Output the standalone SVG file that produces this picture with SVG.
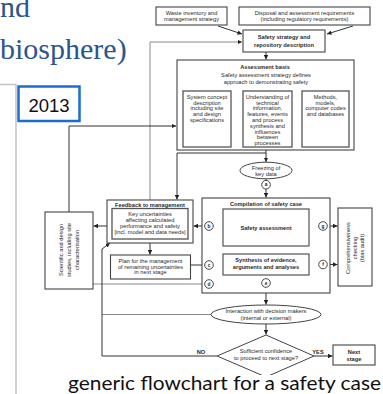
<svg xmlns="http://www.w3.org/2000/svg" width="383" height="394" viewBox="0 0 383 394">
  <style>
    .t { font-family: "Liberation Sans", Arial, sans-serif; font-size: 5.7px; fill: #2a2a2a; text-anchor: middle; }
    .b { font-weight: bold; }
    .box { fill: #fff; stroke: #444; stroke-width: 1.1; }
    .inner { fill: #fff; stroke: #555; stroke-width: 1.3; }
    .ln { fill: none; stroke: #333; stroke-width: 1; }
    .lt { fill: none; stroke: #8a8a8a; stroke-width: 1; }
    .ar { marker-end: url(#ah); }
    .dot { fill: #fff; stroke: #333; stroke-width: 0.9; }
    .lbl { font-family: "Liberation Sans", Arial, sans-serif; font-size: 4.8px; font-weight: bold; fill: #222; text-anchor: middle; }
    .head { font-family: "Liberation Serif", "Times New Roman", serif; font-size: 30px; fill: #2b5590; }
  </style>
  <defs>
    <marker id="ah" viewBox="0 0 8 8" refX="8" refY="4" markerWidth="4.5" markerHeight="4.5" orient="auto" markerUnits="userSpaceOnUse">
      <path d="M0,0 L8,4 L0,8 z" fill="#222"/>
    </marker>
  </defs>

  <rect width="383" height="394" fill="#fff"/>

  <!-- slide heading fragments -->
  <g id="heading">
    <text class="head" x="0" y="17">nd</text>
    <text class="head" x="0" y="59">biosphere)</text>
  </g>

  <!-- side panel edge -->
  <g id="side-panel">
    <path d="M0,84.5 H16 V394" fill="none" stroke="#c4c4c4" stroke-width="1.5"/>
  </g>

  <!-- year tag -->
  <g id="year-tag">
    <rect x="18.5" y="86.5" width="61" height="34.5" fill="#fff" stroke="#1b6cd3" stroke-width="2.5"/>
    <text x="49" y="111.5" font-family="Liberation Sans, Arial, sans-serif" font-size="18.5" text-anchor="middle" fill="#111">2013</text>
  </g>

  <!-- connectors -->
  <g id="connectors">
    <path class="ln ar" d="M218,26 L242,34"/>
    <path class="ln ar" d="M353,26 L327,34"/>
    <path class="ln ar" d="M266,52 V59.5"/>
    <path class="lt ar" d="M150,200 V42 H242"/>
    <path class="ln ar" d="M69,212 V126 H176"/>
    <path class="ln ar" d="M266,150 V162"/>
    <path class="ln ar" d="M266,153 H177 V199.5"/>
    <path class="ln" d="M266,178.5 V180.5"/>
    <path class="ln ar" d="M266,189 V197.5"/>
    <path class="ln" d="M223,226 H213.3"/>
    <path class="ln ar" d="M204.7,226 H193.5"/>
    <path class="ln ar" d="M318.7,226 H309.5"/>
    <path class="ln ar" d="M327.3,226 H337.5"/>
    <path class="ln ar" d="M318.7,264.5 H309.5"/>
    <path class="ln ar" d="M327.3,264.5 H337.5"/>
    <path class="ln" d="M191,265 H204.7"/>
    <path class="ln ar" d="M213.3,265 H222.5"/>
    <path class="lt" d="M93,284 H204.7"/>
    <path class="ln ar" d="M213.3,284 H225 L233.5,276"/>
    <path class="ln ar" d="M266,246 V253.5"/>
    <path class="ln ar" d="M266,275 V278.5"/>
    <path class="ln ar" d="M266,287.3 V304.5"/>
    <path class="lt" d="M211,314.5 H102"/>
    <path class="ln ar" d="M266,324 V334.5"/>
    <path class="ln ar" d="M217,356 H102 V249 L110,243"/>
    <path class="ln ar" d="M314,356 H332.5"/>
    <path class="ln ar" d="M150,243 V254.5"/>
    <path class="ln ar" d="M107,226 H93.5"/>
  </g>

  <g id="waste-inventory">
    <rect class="box" x="156" y="7" width="71" height="18"/>
    <text class="t" x="191.5" y="14.5">Waste inventory and</text>
    <text class="t" x="191.5" y="21">management strategy</text>
  </g>

  <g id="disposal-requirements">
    <rect class="box" x="239" y="7" width="131" height="18"/>
    <text class="t" x="304.5" y="14.5">Disposal and assessment requirements</text>
    <text class="t" x="304.5" y="21">(including regulatory requirements)</text>
  </g>

  <g id="safety-strategy">
    <rect class="box" x="243" y="30" width="82" height="22"/>
    <text class="t b" x="284" y="39" font-size="6.2">Safety strategy and</text>
    <text class="t b" x="284" y="47" font-size="6.2">repository description</text>
  </g>

  <g id="assessment-basis">
    <rect class="box" x="177" y="60" width="177" height="90"/>
    <text class="t b" x="265" y="68.5" font-size="7">Assessment basis</text>
    <text class="t" x="266" y="76.5" font-size="7">Safety assessment strategy defines</text>
    <text class="t" x="266" y="84" font-size="7">approach to demonstrating safety</text>
    <rect class="inner" x="183" y="91" width="48" height="56"/>
    <text class="t" x="207" y="98.7">System concept</text>
    <text class="t" x="207" y="104.5">description</text>
    <text class="t" x="207" y="110.3">including site</text>
    <text class="t" x="207" y="116.1">and design</text>
    <text class="t" x="207" y="121.9">specifications</text>
    <rect class="inner" x="243" y="91" width="49" height="56"/>
    <text class="t" x="267.5" y="98.7">Understanding of</text>
    <text class="t" x="267.5" y="104.5">technical</text>
    <text class="t" x="267.5" y="110.3">information,</text>
    <text class="t" x="267.5" y="116.1">features, events</text>
    <text class="t" x="267.5" y="121.9">and process</text>
    <text class="t" x="267.5" y="127.7">synthesis and</text>
    <text class="t" x="267.5" y="133.5">influences</text>
    <text class="t" x="267.5" y="139.3">between</text>
    <text class="t" x="267.5" y="145.1">processes</text>
    <rect class="inner" x="302" y="91" width="47" height="56"/>
    <text class="t" x="325.5" y="98.7">Methods,</text>
    <text class="t" x="325.5" y="104.5">models,</text>
    <text class="t" x="325.5" y="110.3">computer codes</text>
    <text class="t" x="325.5" y="116.1">and databases</text>
  </g>

  <g id="freezing">
    <ellipse cx="266" cy="170.5" rx="26" ry="8.3" fill="#fff" stroke="#444" stroke-width="1"/>
    <text class="t" x="266" y="169.5">Freezing of</text>
    <text class="t" x="266" y="175.5">key data</text>
  </g>

  <g id="point-a">
    <circle class="dot" cx="266" cy="184.7" r="4.3"/>
    <text class="lbl" x="266" y="186.4">a</text>
  </g>

  <g id="compilation">
    <rect class="box" x="202" y="198" width="128" height="95"/>
    <text class="t b" x="266" y="206.3" font-size="7">Compilation of safety case</text>
  </g>

  <g id="safety-assessment">
    <rect class="box" x="223" y="209" width="86" height="37"/>
    <text class="t b" x="266" y="229.5" font-size="5.8">Safety assessment</text>
  </g>

  <g id="synthesis">
    <rect class="box" x="223" y="254" width="86" height="21"/>
    <text class="t b" x="266" y="261.5" font-size="5.8">Synthesis of evidence,</text>
    <text class="t b" x="266" y="269" font-size="5.8">arguments and analyses</text>
  </g>

  <g id="point-b">
    <circle class="dot" cx="209" cy="226" r="4.3"/>
    <text class="lbl" x="209" y="227.7">b</text>
  </g>
  <g id="point-c">
    <circle class="dot" cx="209" cy="265" r="4.3"/>
    <text class="lbl" x="209" y="266.7">c</text>
  </g>
  <g id="point-d">
    <circle class="dot" cx="209" cy="284" r="4.3"/>
    <text class="lbl" x="209" y="285.7">d</text>
  </g>
  <g id="point-e">
    <circle class="dot" cx="266" cy="283" r="4.3"/>
    <text class="lbl" x="266" y="284.7">e</text>
  </g>
  <g id="point-f">
    <circle class="dot" cx="323" cy="264.5" r="4.3"/>
    <text class="lbl" x="323" y="266.2">f</text>
  </g>
  <g id="point-g">
    <circle class="dot" cx="323" cy="226" r="4.3"/>
    <text class="lbl" x="323" y="227.7">g</text>
  </g>

  <g id="comprehensiveness">
    <rect class="box" x="338" y="208" width="34" height="78"/>
    <g transform="translate(355,248) rotate(-90)">
      <text class="t" x="0" y="-5" font-size="6.2">Comprehensiveness</text>
      <text class="t" x="0" y="2" font-size="6.2">checking</text>
      <text class="t" x="0" y="9" font-size="6.2">(bias audit)</text>
    </g>
  </g>

  <g id="scientific-studies">
    <rect class="box" x="45" y="212" width="48" height="77"/>
    <g transform="translate(69,250) rotate(-90)">
      <text class="t" x="0" y="-6" font-size="5.9">Scientific and design</text>
      <text class="t" x="0" y="2.2" font-size="5.9">studies, including site</text>
      <text class="t" x="0" y="10.4" font-size="5.9">characterisation</text>
    </g>
  </g>

  <g id="feedback">
    <rect class="box" x="107" y="200" width="86" height="43"/>
    <text class="t b" x="150" y="206.5" font-size="6.2">Feedback to management</text>
    <rect class="inner" x="112" y="208.5" width="76" height="30.5"/>
    <text class="t" x="150" y="216">Key uncertainties</text>
    <text class="t" x="150" y="222">affecting calculated</text>
    <text class="t" x="150" y="228">performance and safety</text>
    <text class="t" x="150" y="234">[incl. model and data needs]</text>
  </g>

  <g id="plan">
    <rect class="box" x="110.5" y="255" width="80" height="24"/>
    <text class="t" x="150.5" y="263">Plan for the management</text>
    <text class="t" x="150.5" y="268.7">of remaining uncertainties</text>
    <text class="t" x="150.5" y="274.4">in next stage</text>
  </g>

  <g id="interaction">
    <ellipse cx="266" cy="314.5" rx="55" ry="9.5" fill="#fff" stroke="#444" stroke-width="1"/>
    <text class="t" x="266" y="313">Interaction with decision makers</text>
    <text class="t" x="266" y="319.5">(internal or external)</text>
  </g>

  <g id="decision">
    <polygon points="266,335 314,356 266,377 217,356" fill="#fff" stroke="#444" stroke-width="1"/>
    <text class="t" x="266" y="353">Sufficient confidence</text>
    <text class="t" x="266" y="360">to proceed to next stage?</text>
    <text class="t b" x="201" y="353.5">NO</text>
    <text class="t b" x="318" y="353.5">YES</text>
  </g>

  <g id="next-stage">
    <rect class="box" x="333" y="345" width="42" height="20"/>
    <text class="t b" x="354" y="353.5" font-size="6">Next</text>
    <text class="t b" x="354" y="360.5" font-size="6">stage</text>
  </g>

  <!-- caption -->
  <g id="caption">
    <rect x="60" y="375" width="323" height="19" fill="#fff"/>
    <text x="68" y="390" font-family="Lato, 'Liberation Sans', sans-serif" font-size="20" fill="#111" textLength="313" lengthAdjust="spacingAndGlyphs">generic flowchart for a safety case</text>
  </g>
</svg>
